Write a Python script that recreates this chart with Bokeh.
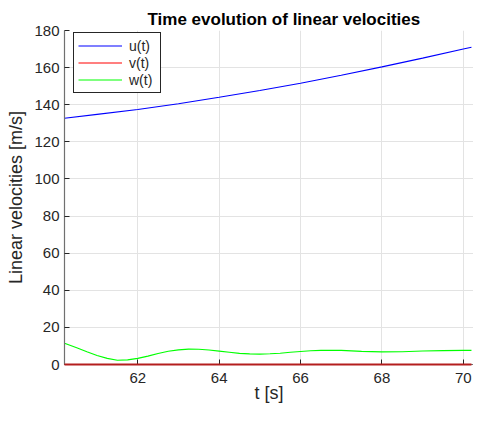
from bokeh.plotting import figure
from bokeh.models import ColumnDataSource, Legend, LegendItem, Title, FixedTicker, Range1d
from bokeh.embed import file_html
from bokeh.resources import INLINE

# ---- data ----
t_u = [60.2, 61.0, 62.0, 63.0, 64.0, 65.0, 66.0, 67.0, 68.0, 69.0, 70.0, 70.2]
u_vals = [132.7, 134.8, 137.4, 140.5, 144.0, 147.7, 151.6, 155.9, 160.4, 165.1, 170.0, 171.0]
v_vals = [0.0, 0.0, 0.0, 0.0, 0.0, 0.0, 0.0, 0.0, 0.0, 0.0, 0.0, 0.0]

t_w = [60.2, 60.5, 60.75, 61.0, 61.25, 61.5, 61.75, 62.0, 62.25, 62.5, 62.75, 63.0,
       63.25, 63.5, 63.75, 64.0, 64.25, 64.5, 64.75, 65.0, 65.25, 65.5, 65.75, 66.0,
       66.25, 66.5, 66.75, 67.0, 67.5, 68.0, 68.5, 69.0, 69.5, 70.0, 70.2]
w_vals = [11.5, 9.0, 6.9, 4.9, 3.3, 2.3, 2.5, 3.3, 4.5, 5.9, 7.1, 7.9,
          8.3, 8.2, 7.8, 7.2, 6.6, 6.0, 5.7, 5.6, 5.8, 6.1, 6.6, 7.0,
          7.4, 7.6, 7.7, 7.6, 7.1, 6.8, 6.9, 7.3, 7.5, 7.6, 7.6]

x_ticks = [62, 64, 66, 68, 70]
y_ticks = [0, 20, 40, 60, 80, 100, 120, 140, 160, 180]

title_text = "Time evolution of linear velocities"
x_label = "t [s]"
y_label = "Linear velocities [m/s]"
legend_labels = ["u(t)", "v(t)", "w(t)"]

FONT = "Liberation Sans"
TXT = "#262626"

p = figure(width=473, height=405, output_backend="svg", toolbar_location=None,
           x_range=Range1d(60.2, 70.25), y_range=Range1d(0, 180),
           min_border_left=64, min_border_right=0, min_border_bottom=41, min_border_top=30)
p.title = None
p.outline_line_color = None
p.background_fill_color = "white"
p.border_fill_color = "white"

p.add_layout(Title(text=title_text, text_font=FONT, text_font_size="17px",
                   text_font_style="bold", text_color="black",
                   align="left", offset=83, standoff=4), "above")

src_u = ColumnDataSource(dict(t=t_u, u=u_vals, v=v_vals))
src_w = ColumnDataSource(dict(t=t_w, w=w_vals))

r_u = p.line("t", "u", source=src_u, line_color="#0000ff", line_width=1.1)
r_v = p.line("t", "v", source=src_u, line_color="#ff0000", line_width=1.1)
r_w = p.line("t", "w", source=src_w, line_color="#00ff00", line_width=1.1)
p.line("t", "v", source=src_u, line_color="#b41e1e", line_width=1.8, level="overlay")

for ax in (p.xaxis[0], p.yaxis[0]):
    ax.axis_line_color = "#707070"
    ax.axis_line_width = 1.2
    ax.major_tick_line_color = "#262626"
    ax.major_tick_in = 5
    ax.major_tick_out = 0
    ax.minor_tick_line_color = None
    ax.major_label_text_font = FONT
    ax.major_label_text_font_size = "15px"
    ax.major_label_text_color = TXT
    ax.axis_label_text_font = FONT
    ax.axis_label_text_font_size = "18px"
    ax.axis_label_text_font_style = "normal"
    ax.axis_label_text_color = TXT

p.xaxis[0].ticker = FixedTicker(ticks=x_ticks)
p.yaxis[0].ticker = FixedTicker(ticks=y_ticks)
p.xaxis[0].axis_label = x_label
p.yaxis[0].axis_label = y_label
p.xaxis[0].major_label_standoff = 8
p.xaxis[0].axis_label_standoff = -3
p.yaxis[0].major_label_standoff = 5
p.yaxis[0].axis_label_standoff = 5

p.xgrid.ticker = FixedTicker(ticks=x_ticks)
p.ygrid.ticker = FixedTicker(ticks=y_ticks)
p.grid.grid_line_color = "#e3e3e3"
p.grid.grid_line_width = 1

legend = Legend(items=[LegendItem(label=legend_labels[0], renderers=[r_u]),
                       LegendItem(label=legend_labels[1], renderers=[r_v]),
                       LegendItem(label=legend_labels[2], renderers=[r_w])],
                location=(9, 271), margin=0, padding=4, spacing=0,
                glyph_width=44, glyph_height=17, label_height=17, label_width=27,
                label_standoff=7,
                label_text_font=FONT, label_text_font_size="14px", label_text_color=TXT,
                border_line_color="#262626", border_line_width=1, border_line_alpha=1.0,
                background_fill_color="white", background_fill_alpha=1.0)
p.add_layout(legend, "center")

open("out.html", "w").write(file_html(p, INLINE))
